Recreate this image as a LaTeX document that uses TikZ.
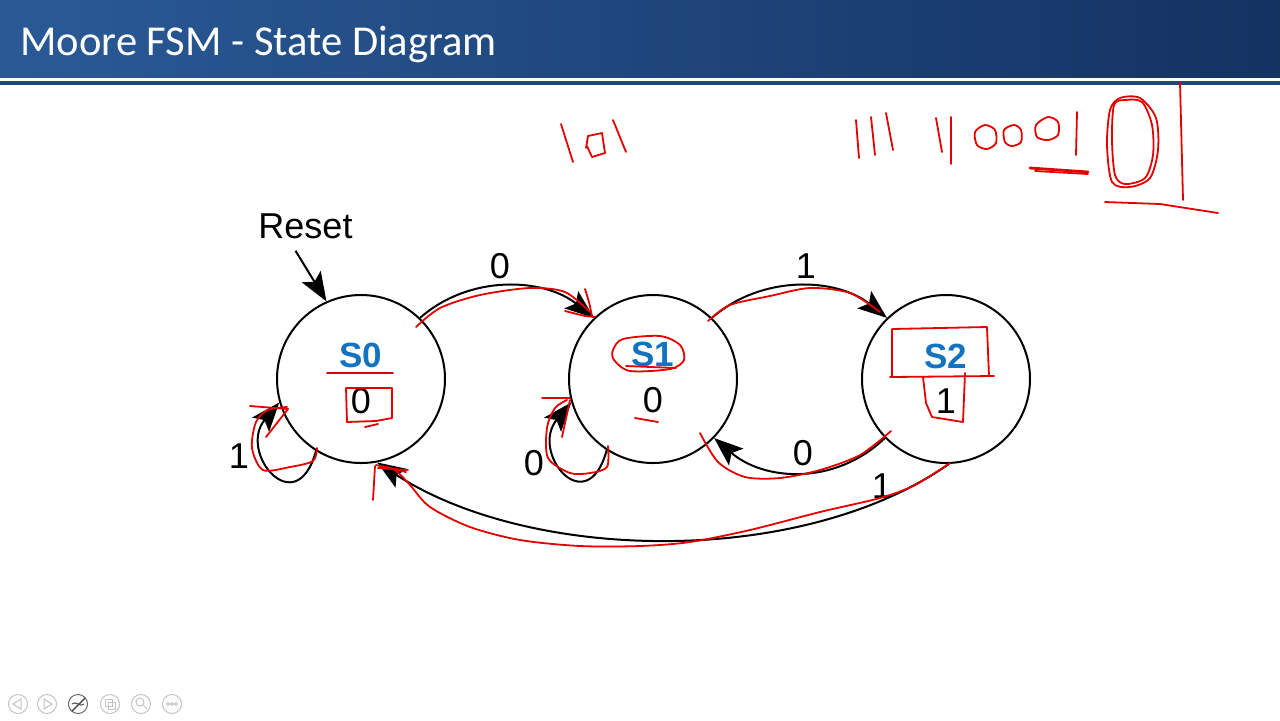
\documentclass[tikz,border=0pt]{standalone}
\usepackage{fontspec}
\setmainfont{Liberation Sans}
\newfontfamily\titlefont{Carlito}
\usetikzlibrary{arrows.meta}
\definecolor{hdrL}{RGB}{42,90,150}
\definecolor{hdrR}{RGB}{20,50,98}
\definecolor{hdrline}{RGB}{30,72,125}
\definecolor{sblue}{RGB}{20,115,190}
\definecolor{ink}{RGB}{228,0,0}
\definecolor{uigrey}{RGB}{195,195,195}
\begin{document}
\begin{tikzpicture}[x=0.5pt,y=-0.5pt,
  state/.style={circle, draw=black, line width=1pt, minimum size=84pt, inner sep=0pt},
  sname/.style={font=\bfseries\fontsize{17.5}{20}\selectfont, text=sblue, anchor=base, inner sep=0pt},
  sout/.style={font=\fontsize{18}{20}\selectfont, anchor=base, inner sep=0pt},
  elabel/.style={font=\fontsize{18}{20}\selectfont, anchor=base, inner sep=0pt},
  trans/.style={draw=black, line width=1pt, -{Stealth[length=14.5pt,width=11pt,inset=3pt]}},
  ink/.style={draw=ink, line width=0.9pt, line cap=round, line join=round},
  ui/.style={draw=uigrey, line width=0.5pt}]
\useasboundingbox (0,0) rectangle (1280,720);
\fill[white] (0,0) rectangle (1280,720);
% header
\shade[left color=hdrL, right color=hdrR] (0,0) rectangle (1280,77);
\fill[hdrline] (0,81) rectangle (1280,85);
\node[font=\titlefont\fontsize{21.3}{24}\selectfont, text=white, anchor=base west, inner sep=0pt] (title) at (20,55) {Moore FSM - State Diagram};

% states
\node[state] (s0) at (361,379) {};
\node[state] (s1) at (653,379) {};
\node[state] (s2) at (946,379) {};
\node[sname] (s0n) at (361,367) {S0};
\node[sout]  (s0o) at (361,413) {0};
\node[sname] (s1n) at (653,366) {S1};
\node[sout]  (s1o) at (653,412) {0};
\node[sname] (s2n) at (946,368) {S2};
\node[sout]  (s2o) at (946,413) {1};

% reset
\node[elabel] (reset) at (305.5,238) {Reset};
\draw[trans] ([xshift=-5pt,yshift=-6pt]reset.south) -- (s0.114);

% transitions
\draw[trans] (s0.46) .. controls +(50,-44) and +(-50,-40) .. (s1.134);
\draw[trans] (s1.46) .. controls +(50,-44) and +(-50,-40) .. (s2.134);
\draw[trans] (s2.224) .. controls +(-50,48) and +(50,43) .. (s1.-44);
\draw[trans] (s2.-88) .. controls (800,568) and (530,562) .. (s0.-79);
\draw[trans] (s0.-122) .. controls +(-20,72) and +(-42,50) .. (s0.196);
\draw[trans] (s1.-123) .. controls +(-20,72) and +(-42,50) .. (s1.196);

% transition labels
\node[elabel] (l01) at (500,278) {0};
\node[elabel] (l12) at (806,278) {1};
\node[elabel] (l21) at (803,465) {0};
\node[elabel] (l20) at (882,498) {1};
\node[elabel] (l00) at (239,468) {1};
\node[elabel] (l11) at (534,475) {0};

% red handwriting: 101
\draw[ink] (561,124) -- (573,162);
\draw[ink] (586,148) -- (588,136) -- (602,133) -- (605,153) -- (592,157) -- (587,146);
\draw[ink] (613,120) -- (626,152);
% red handwriting: 1111000101
\draw[ink] (856,120) -- (859,158);
\draw[ink] (871,117) -- (875,155);
\draw[ink] (886,113) -- (893,150);
\draw[ink] (936,118) -- (942,152);
\draw[ink] (951,117) -- (951,164);
\draw[ink] plot[smooth cycle] coordinates {(975,132) (985,125) (995,130) (996,143) (987,149) (977,145)};
\draw[ink] plot[smooth cycle] coordinates {(1004,130) (1014,125) (1021,130) (1021,142) (1012,146) (1005,142)};
\draw[ink] plot[smooth cycle] coordinates {(1036,125) (1048,117) (1058,122) (1058,135) (1048,140) (1037,137)};
\draw[ink] (1077,112) -- (1076,155);
\draw[ink, line width=1.4pt] (1030,168) -- (1088,172);
\draw[ink] (1035,171) -- (1088,174);
\draw[ink] plot[smooth cycle] coordinates {(1110,110) (1120,98) (1140,98) (1156,118) (1158,150) (1150,178) (1130,187) (1112,182) (1107,145)};
\draw[ink] plot[smooth cycle] coordinates {(1114,105) (1125,100) (1142,102) (1152,125) (1153,155) (1145,178) (1125,184) (1115,175) (1112,140)};
\draw[ink] (1180,82) -- (1183,200);
\draw[ink] (1105,202) -- (1160,204) -- (1218,213);

% red over diagram
\draw[ink] plot[smooth] coordinates {(416,327) (440,308) (480,295) (530,288) (565,292) (590,312)};
\draw[ink] (565,311) -- (585,316) -- (595,317);
\draw[ink] (585,289) -- (589,302) -- (592,316);
\draw[ink] (327,373) -- (393,373);
\draw[ink] (346,388) -- (392,388) -- (392,418) -- (376,421) -- (347,422) -- (346,388);
\draw[ink] (365,427) -- (378,424);
\draw[ink] plot[smooth] coordinates {(317,448) (313,461) (290,467) (263,470) (252,448) (256,422) (268,410) (287,407)};
\draw[ink] (250,406) -- (288,409) -- (266,437);
\draw[ink] (373,500) -- (375,466);
\draw[ink] (376,465) -- (406,472);
\draw[ink] (378,468) -- (408,470);
\draw[ink] plot[smooth] coordinates {(950,463) (915,485) (880,498) (820,512) (750,530) (690,542) (640,546) (580,546) (520,540) (470,527) (430,507) (410,485) (395,470) (380,466)};
\draw[ink] plot[smooth cycle] coordinates {(613,350) (623,339) (660,336) (680,345) (684,360) (670,369) (630,371) (614,360)};
\draw[ink] (626,366) -- (676,368);
\draw[ink] (635,418) -- (658,422);
\draw[ink] (542,398) -- (570,398);
\draw[ink] (570,400) -- (562,437);
\draw[ink] plot[smooth] coordinates {(608,446) (607,467) (590,473) (570,473) (548,458) (547,428) (555,408) (567,400)};
\draw[ink] plot[smooth] coordinates {(708,321) (730,305) (770,296) (810,288) (850,293) (880,312)};
\draw[ink] plot[smooth] coordinates {(891,431) (860,455) (820,470) (780,478) (745,477) (718,462) (700,433)};
\draw[ink] (892,377) -- (892,329) -- (987,327) -- (989,376);
\draw[ink] (890,377) -- (994,376);
\draw[ink] (923,377) -- (926,403) -- (932,417) -- (963,422) -- (965,373);

% slideshow toolbar
\foreach \x in {18,47,110,141,172} \draw[ui] (\x,704) circle (9.5);
\draw[draw=gray!80!black, line width=0.5pt] (78,704) circle (9.5);
\draw[ui] (21,699) -- (13,704) -- (21,709) -- cycle;
\draw[ui] (44,699) -- (52,704) -- (44,709) -- cycle;
\draw[draw=gray!60!black, line width=0.7pt] (72,711) -- (85,698);
\draw[draw=gray!60!black, line width=0.5pt] (72,704) .. controls (76,700) and (80,708) .. (84,704);
\draw[ui] (105,699) rectangle (112,706);
\draw[ui] (108,702) rectangle (115,709);
\draw[ui] (140,702) circle (4);
\draw[ui] (143,705) -- (147,709);
\foreach \x in {168,172,176} \draw[ui] (\x,704) circle (1.5);
\end{tikzpicture}
\end{document}
